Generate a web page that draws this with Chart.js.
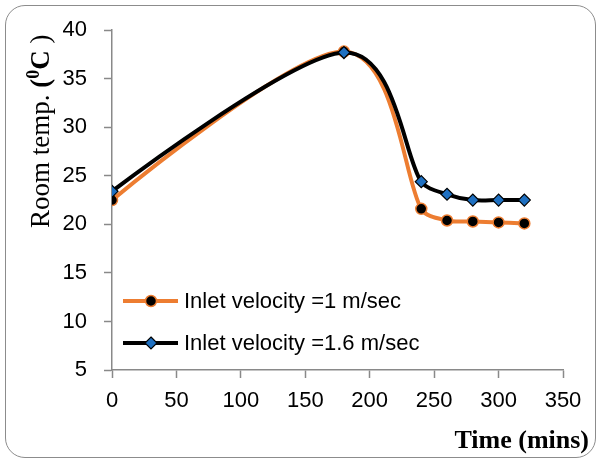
<!DOCTYPE html>
<html>
<head>
<meta charset="utf-8">
<script src="https://cdn.jsdelivr.net/npm/chart.js@4.4.1/dist/chart.umd.min.js"></script>
<style>
    html, body { margin: 0; padding: 0; background: #fff; }
    #wrap { position: relative; width: 597px; height: 458px; }
    #frame {
        position: absolute; left: 5px; top: 5px; width: 589px; height: 451px;
        border: 1.5px solid #8c8c8c; border-radius: 20px; pointer-events: none;
    }
</style>
</head>
<body>
<div id="wrap">
    <canvas id="tempChart" width="597" height="458"></canvas>
    <div id="frame"></div>
</div>
<script>
// zaman (dakika)
var times = [0, 180, 240, 260, 280, 300, 320];
// oda sicakligi, 1 m/sec
var temp1 = [22.5, 37.8, 21.6, 20.4, 20.3, 20.2, 20.1];
// oda sicakligi, 1.6 m/sec
var temp16 = [23.4, 37.7, 24.4, 23.1, 22.5, 22.5, 22.5];
var seriesLabels = ['Inlet velocity =1 m/sec', 'Inlet velocity =1.6 m/sec'];
var xTitle = 'Time (mins)';

var axisColor = '#898989';
var tickFont = { family: 'Liberation Sans', size: 22 };

function toPoints(xs, ys) {
    return xs.map(function (x, i) { return { x: x, y: ys[i] }; });
}

// Excel tarzi yumusatma: Catmull-Rom, kol boyu komsu parcaya gore sinirli
var excelSmooth = {
    id: 'excelSmooth',
    beforeDatasetsDraw: function (chart) {
        chart.getSortedVisibleDatasetMetas().forEach(function (meta) {
            var line = meta.dataset;
            line.updateControlPoints(chart.chartArea, 'x');
            line._pointsUpdated = true;
            var pts = meta.data;
            var n = pts.length;
            for (var i = 0; i < n; i++) {
                var p = pts[i];
                var prev = pts[i - 1] || p;
                var next = pts[i + 1] || p;
                var tx = (next.x - prev.x) / 6;
                var ty = (next.y - prev.y) / 6;
                if (i === 0 || i === n - 1) { tx = 0; ty = 0; }
                var arm = Math.hypot(tx, ty) || 1;
                var dPrev = Math.hypot(p.x - prev.x, p.y - prev.y);
                var dNext = Math.hypot(next.x - p.x, next.y - p.y);
                var kPrev = Math.min(1, 0.35 * dPrev / arm);
                var kNext = Math.min(1, 0.35 * dNext / arm);
                p.cp1x = p.x - tx * kPrev;
                p.cp1y = p.y - ty * kPrev;
                p.cp2x = p.x + tx * kNext;
                p.cp2y = p.y + ty * kNext;
            }
        });
    }
};

// eksen basliklari ve icerideki lejant
var extras = {
    id: 'extras',
    afterDraw: function (chart) {
        var ctx = chart.ctx;
        ctx.save();
        ctx.fillStyle = '#000';
        ctx.textBaseline = 'alphabetic';

        // y ekseni basligi (karisik font)
        ctx.translate(49, 228);
        ctx.rotate(-Math.PI / 2);
        var parts = [
            { t: 'Room temp. ', f: '27px "Liberation Serif"', dy: 0 },
            { t: '(', f: 'bold 27px "Liberation Serif"', dy: 0 },
            { t: '0', f: 'bold 18px "Liberation Serif"', dy: -10 },
            { t: 'C', f: 'bold 27px "Liberation Serif"', dy: 0 },
            { t: ' )', f: '27px "Liberation Serif"', dy: 0 }
        ];
        var x = 0;
        parts.forEach(function (p) {
            ctx.font = p.f;
            ctx.fillText(p.t, x, p.dy);
            x += ctx.measureText(p.t).width;
        });
        ctx.restore();

        // x ekseni basligi
        ctx.save();
        ctx.font = 'bold 26px "Liberation Serif"';
        ctx.textAlign = 'right';
        ctx.textBaseline = 'alphabetic';
        ctx.fillStyle = '#000';
        ctx.fillText(xTitle, 589, 448);
        ctx.restore();

        // lejant
        ctx.save();
        var rows = [301, 343];
        chart.data.datasets.forEach(function (ds, i) {
            var y = rows[i];
            ctx.strokeStyle = ds.borderColor;
            ctx.lineWidth = ds.borderWidth;
            ctx.beginPath();
            ctx.moveTo(123, y);
            ctx.lineTo(178, y);
            ctx.stroke();
            ctx.fillStyle = ds.pointBackgroundColor;
            ctx.strokeStyle = ds.pointBorderColor;
            ctx.lineWidth = ds.pointBorderWidth;
            ctx.beginPath();
            var r = ds.pointRadius;
            if (ds.pointStyle === 'circle') {
                ctx.arc(151, y, r, 0, Math.PI * 2);
            } else {
                ctx.moveTo(151, y - r);
                ctx.lineTo(151 + r, y);
                ctx.lineTo(151, y + r);
                ctx.lineTo(151 - r, y);
                ctx.closePath();
            }
            ctx.fill();
            ctx.stroke();
            ctx.fillStyle = '#000';
            ctx.font = '22px "Liberation Sans"';
            ctx.textBaseline = 'middle';
            ctx.textAlign = 'left';
            ctx.fillText(seriesLabels[i], 184, y + 1);
        });
        ctx.restore();
    }
};

var ctx = document.getElementById('tempChart').getContext('2d');

new Chart(ctx, {
    type: 'line',
    data: {
        datasets: [{
            label: seriesLabels[0],
            data: toPoints(times, temp1),
            borderColor: '#ED7D31',
            borderWidth: 4,
            pointStyle: 'circle',
            pointRadius: 5.5,
            pointBackgroundColor: '#000',
            pointBorderColor: '#ED7D31',
            pointBorderWidth: 1.5,
            tension: 0.4,
            order: 1
        }, {
            label: seriesLabels[1],
            data: toPoints(times, temp16),
            borderColor: '#000',
            borderWidth: 4,
            pointStyle: 'rectRot',
            pointRadius: 6,
            pointBackgroundColor: '#1F70C1',
            pointBorderColor: '#000',
            pointBorderWidth: 1.2,
            tension: 0.4,
            order: 0
        }]
    },
    options: {
        responsive: false,
        animation: false,
        layout: {
            padding: { left: 0, top: 30, right: 34, bottom: 0 }
        },
        plugins: {
            legend: { display: false },
            tooltip: { enabled: false }
        },
        scales: {
            x: {
                type: 'linear',
                min: 0,
                max: 350,
                ticks: { stepSize: 50, color: '#000', font: tickFont, padding: 10, maxRotation: 0 },
                grid: { drawOnChartArea: false, color: axisColor, tickLength: 8, tickWidth: 1.5 },
                border: { color: axisColor, width: 1.5 },
                afterFit: function (scale) { scale.height = 88; }
            },
            y: {
                min: 5,
                max: 40,
                ticks: { stepSize: 5, color: '#000', font: tickFont, padding: 17 },
                grid: { drawOnChartArea: false, color: axisColor, tickLength: 8, tickWidth: 1.5 },
                border: { color: axisColor, width: 1.5 },
                afterFit: function (scale) { scale.width = 112; }
            }
        }
    },
    plugins: [excelSmooth, extras]
});
</script>
</body>
</html>
